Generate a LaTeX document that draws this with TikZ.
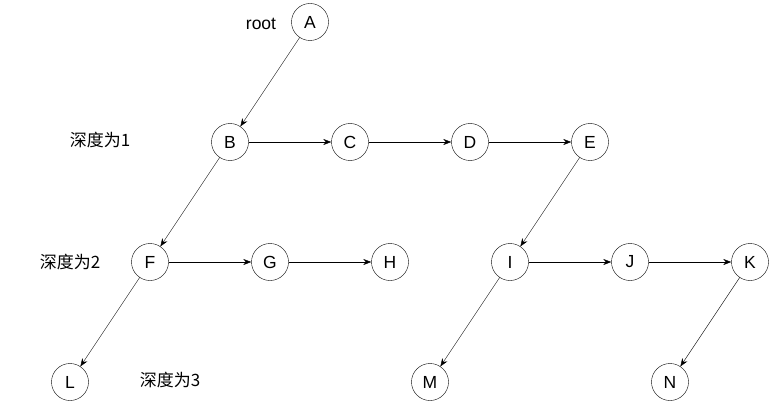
\documentclass[tikz,border=0pt]{standalone}
\usepackage{fontspec}
\setmainfont{Liberation Sans}
\newfontfamily\cjk{Noto Sans CJK SC}
\usetikzlibrary{arrows.meta}
\begin{document}
\begin{tikzpicture}[x=1pt,y=-1pt,
  vert/.style={draw,circle,minimum size=37pt,inner sep=0pt,font=\fontsize{17.5}{17.5}\selectfont},
  lvl/.style={font=\cjk\fontsize{17}{17}\selectfont},
  link/.style={-{Stealth[length=8pt,width=6pt]},thin}]
\useasboundingbox (0,0) rectangle (781,401);
% vertices
\node[vert] (A) at (310,22) {A};
\node[vert] (B) at (230,142) {B};
\node[vert] (C) at (350,142) {C};
\node[vert] (D) at (470,142) {D};
\node[vert] (E) at (590,142) {E};
\node[vert] (F) at (150,262) {F};
\node[vert] (G) at (270,262) {G};
\node[vert] (H) at (390,262) {H};
\node[vert] (I) at (510,262) {I};
\node[vert] (J) at (630,262) {J};
\node[vert] (K) at (750,262) {K};
\node[vert] (L) at (70,382) {L};
\node[vert] (M) at (430,382) {M};
\node[vert] (N) at (670,382) {N};
% labels
\node[font=\fontsize{17.5}{17.5}\selectfont] (root) at (261,24) {root};
\node[lvl] (d1) at (100,140) {深度为1};
\node[lvl] (d2) at (70,262) {深度为2};
\node[lvl] (d3) at (170,380) {深度为3};
% links
\foreach \s/\t in {A/B,B/C,C/D,D/E,B/F,F/G,G/H,E/I,I/J,J/K,F/L,I/M,K/N}
  \draw[link] (\s) -- (\t);
\end{tikzpicture}
\end{document}
